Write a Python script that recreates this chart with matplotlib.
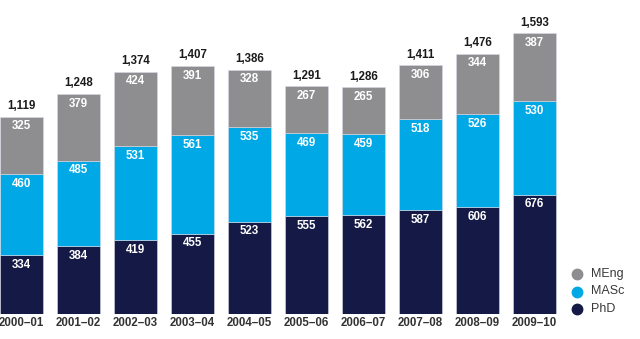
import matplotlib
matplotlib.use("Agg")
import matplotlib.pyplot as plt
from matplotlib.lines import Line2D
import numpy as np

plt.rcParams['font.family'] = ['Liberation Sans', 'DejaVu Sans']

years = ["2000–01", "2001–02", "2002–03", "2003–04", "2004–05",
         "2005–06", "2006–07", "2007–08", "2008–09", "2009–10"]
phd = [334, 384, 419, 455, 523, 555, 562, 587, 606, 676]
masc = [460, 485, 531, 561, 535, 469, 459, 518, 526, 530]
meng = [325, 379, 424, 391, 328, 267, 265, 306, 344, 387]
totals = [1119, 1248, 1374, 1407, 1386, 1291, 1286, 1411, 1476, 1593]
legend_labels = ["MEng", "MASc", "PhD"]

c_phd = "#141a45"
c_masc = "#00a9e6"
c_meng = "#8e8e90"

W, H = 640, 339
fig = plt.figure(figsize=(W / 100, H / 100), dpi=100)
ax = fig.add_axes([0, 25 / H, 1, 1 - 25 / H])

x = np.arange(len(years))
bw = 43 / 57
ec = "#d8dbe6"
ax.bar(x, phd, bw, color=c_phd, edgecolor=ec, linewidth=0.4)
ax.bar(x, masc, bw, bottom=phd, color=c_masc, edgecolor=ec, linewidth=0.4)
bot2 = np.array(phd) + np.array(masc)
ax.bar(x, meng, bw, bottom=bot2, color=c_meng, edgecolor=ec, linewidth=0.4)

ax.set_xlim(-21.5 / 57, (W - 21.5) / 57)
ax.set_ylim(0, 314 / (281 / 1593))
ax.axis("off")

fs = 8.3
for i in range(len(years)):
    tops = [phd[i], bot2[i], totals[i]]
    vals = [phd[i], masc[i], meng[i]]
    for t, v in zip(tops, vals):
        ax.annotate(str(v), (x[i], t), xytext=(0, -7), textcoords="offset points",
                    ha="center", va="center", color="white", fontsize=fs, fontweight="bold")
    ax.annotate(f"{totals[i]:,}", (x[i], totals[i]), xytext=(0, 7.5), textcoords="offset points",
                ha="center", va="center", color="#1a1a1a", fontsize=fs, fontweight="bold")
    ax.annotate(years[i], (x[i], 0), xytext=(0, -6.5), textcoords="offset points",
                ha="center", va="center", color="#333333", fontsize=fs, fontweight="bold",
                annotation_clip=False)

# manual legend
for k, (lab, c) in enumerate(zip(legend_labels, (c_meng, c_masc, c_phd))):
    yp = 1 - (274 + 17.5 * k) / H
    fig.add_artist(Line2D([577 / W], [yp], marker="o", markersize=7.5, color=c,
                          linestyle="none", transform=fig.transFigure))
    fig.text(591 / W, yp, lab, ha="left", va="center", fontsize=9, color="#3a3a3a")

fig.savefig("out.png", dpi=100)
